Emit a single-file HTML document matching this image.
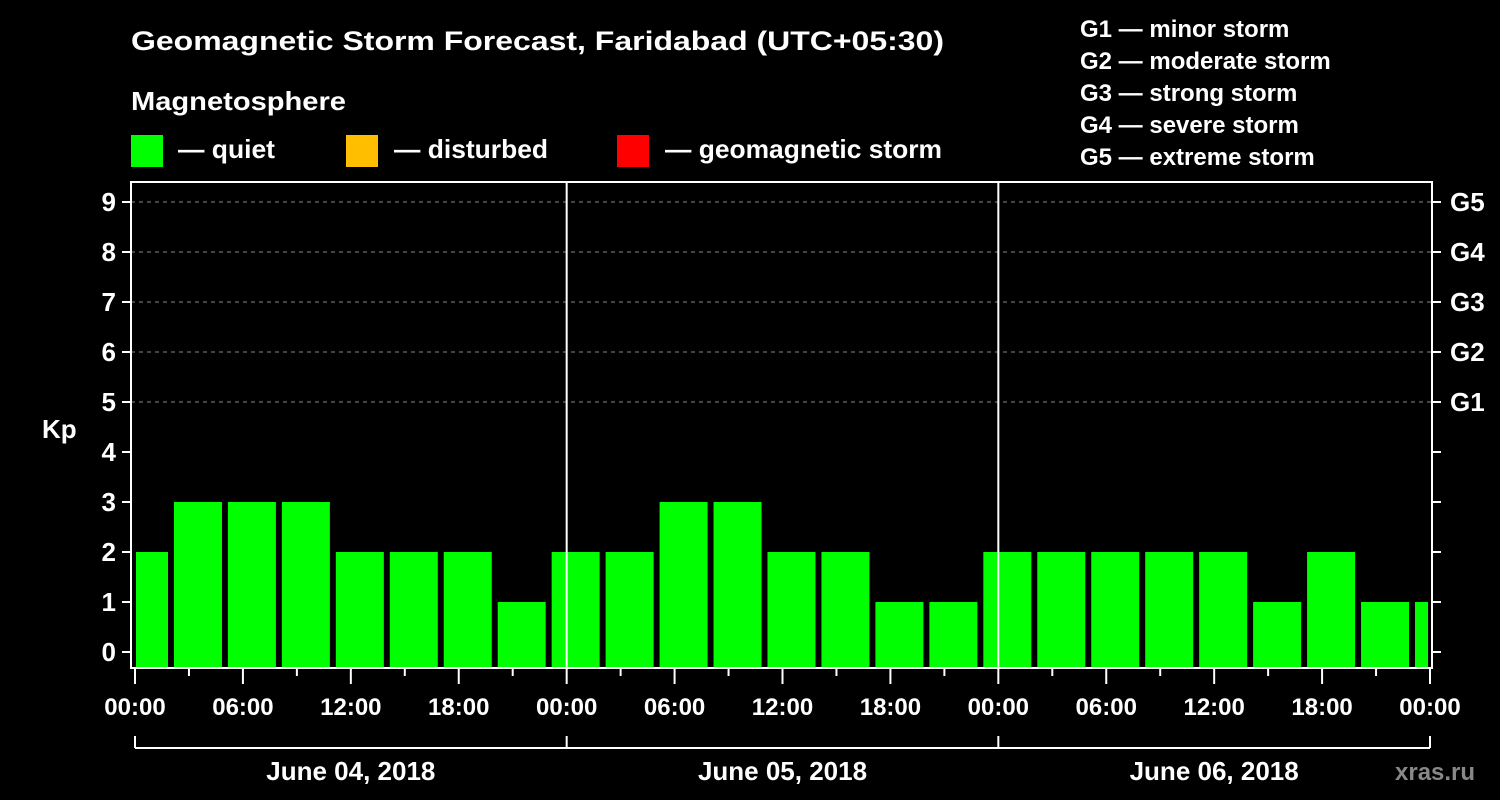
<!DOCTYPE html>
<html><head><meta charset="utf-8">
<style>
html,body{margin:0;padding:0;background:#000;}
svg{display:block;}
text{font-family:"Liberation Sans",Arial,sans-serif;font-weight:bold;fill:#fff;}
</style></head>
<body>
<svg id="chart" width="1500" height="800" viewBox="0 0 1500 800" xmlns="http://www.w3.org/2000/svg">
<rect width="1500" height="800" fill="#000"/>
<text x="131" y="50" font-size="27" textLength="813" lengthAdjust="spacingAndGlyphs">Geomagnetic Storm Forecast, Faridabad (UTC+05:30)</text>
<text x="131" y="110" font-size="26" textLength="215" lengthAdjust="spacingAndGlyphs">Magnetosphere</text>
<rect x="131" y="135" width="32" height="32" fill="#00ff00"/>
<text x="178" y="158" font-size="26" textLength="97" lengthAdjust="spacingAndGlyphs">— quiet</text>
<rect x="346" y="135" width="32" height="32" fill="#ffbf00"/>
<text x="394" y="158" font-size="26" textLength="154" lengthAdjust="spacingAndGlyphs">— disturbed</text>
<rect x="617" y="135" width="32" height="32" fill="#ff0000"/>
<text x="665" y="158" font-size="26" textLength="277" lengthAdjust="spacingAndGlyphs">— geomagnetic storm</text>
<g font-size="24">
<text x="1080" y="37">G1 — minor storm</text>
<text x="1080" y="69">G2 — moderate storm</text>
<text x="1080" y="101">G3 — strong storm</text>
<text x="1080" y="133">G4 — severe storm</text>
<text x="1080" y="165">G5 — extreme storm</text>
</g>
<text x="42" y="438" font-size="26">Kp</text>
<text x="1395" y="780" font-size="24" style="fill:#888">xras.ru</text>
<g id="grid"></g>
<g id="bars"></g>
<g id="axes"></g>
</svg>
<script>
const kpValues = [2,3,3,3,2,2,2,1, 2,2,3,3,2,2,1,1, 2,2,2,2,2,1,2,1, 1];
const yTicks = [0,1,2,3,4,5,6,7,8,9];
const gLabels = ["G1","G2","G3","G4","G5"];
const gLevels = [5,6,7,8,9];
const timeLabels = ["00:00","06:00","12:00","18:00","00:00","06:00","12:00","18:00","00:00","06:00","12:00","18:00","00:00"];
const dayLabels = ["June 04, 2018","June 05, 2018","June 06, 2018"];

const NS="http://www.w3.org/2000/svg";
const X0=135, X1=1430, HOURS=72;
const xh = h => X0 + (X1-X0)*h/HOURS;
const yk = k => 652 - 50*k;
const FL=131, FR=1432, FT=182, FB=668;
function mk(tag, attrs, parent){const e=document.createElementNS(NS,tag);for(const k in attrs)e.setAttribute(k,attrs[k]);parent.appendChild(e);return e;}
const grid=document.getElementById('grid'), bars=document.getElementById('bars'), axes=document.getElementById('axes');

gLevels.forEach((lv,i)=>{
  const l=mk('line',{x1:FL,x2:FR,y1:yk(lv),y2:yk(lv),stroke:'#888','stroke-width':1,'stroke-dasharray':'4,4'},grid);
  
  
  const t=mk('text',{x:1450,y:yk(lv)+9,'font-size':26},axes);
  t.textContent=gLabels[i];
  
  
});

kpValues.forEach((v,i)=>{
  const c=0.5+3*i;
  let a=xh(c)-24, b=xh(c)+24;
  a=Math.max(a,136); b=Math.min(b,1428);
  if(b<=a) return;
  const r=mk('rect',{x:a,y:yk(v),width:b-a,height:FB-yk(v),fill:'#00ff00'},bars);
  
  
});

const frame=mk('rect',{x:FL,y:FT,width:FR-FL,height:FB-FT,fill:'none',stroke:'#fff','stroke-width':2},axes);


[24,48].forEach(h=>{
  const l=mk('line',{x1:xh(h),x2:xh(h),y1:FT,y2:FB,stroke:'#fff','stroke-width':2},axes);
  
  
});

yTicks.forEach(k=>{
  const l=mk('line',{x1:FL-9,x2:FL,y1:yk(k),y2:yk(k),stroke:'#fff','stroke-width':2},axes);
  
  
  const r=mk('line',{x1:FR,x2:FR+9,y1:yk(k),y2:yk(k),stroke:'#fff','stroke-width':2},axes);
  
  
  const t=mk('text',{x:116,y:yk(k)+9,'font-size':26,'text-anchor':'end'},axes);
  t.textContent=k;
  
  
});

for(let h=0;h<=HOURS;h+=3){
  const major=h%6===0;
  const l=mk('line',{x1:xh(h),x2:xh(h),y1:FB,y2:FB+(major?16:8),stroke:'#fff','stroke-width':2},axes);
  
  
}
timeLabels.forEach((s,i)=>{
  const t=mk('text',{x:xh(i*6),y:715,'font-size':24,'text-anchor':'middle'},axes);
  t.textContent=s;
  
  
});

const br=mk('line',{x1:xh(0),x2:xh(72),y1:748,y2:748,stroke:'#fff','stroke-width':2},axes);


[0,24,48,72].forEach(h=>{
  const l=mk('line',{x1:xh(h),x2:xh(h),y1:736,y2:748,stroke:'#fff','stroke-width':2},axes);
  
  
});
dayLabels.forEach((s,i)=>{
  const t=mk('text',{x:xh(12+24*i),y:780,'font-size':26,'text-anchor':'middle'},axes);
  t.textContent=s;
  
  
});
</script>
</body></html>
